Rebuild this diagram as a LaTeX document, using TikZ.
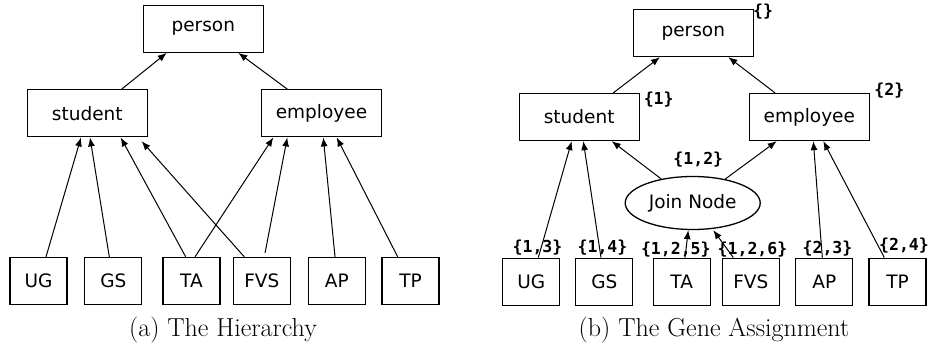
\documentclass[tikz,border=0pt]{standalone}
\usepackage{fontspec}
\setsansfont{DejaVu Sans}
\setmonofont{DejaVu Sans Mono}
\usetikzlibrary{shapes.geometric,arrows.meta}
\tikzset{
  cls/.style={draw, line width=1.3pt, minimum width=120pt, minimum height=47pt, inner sep=0pt,
    font=\sffamily\fontsize{18.5}{21}\selectfont},
  leaf/.style={cls, minimum width=57pt},
  joinnode/.style={draw, ellipse, line width=1.3pt, minimum width=135pt, minimum height=53pt, inner sep=0pt,
    font=\sffamily\fontsize{18.5}{21}\selectfont},
  gene/.style={inner sep=0pt, font=\ttfamily\bfseries\fontsize{16.5}{18}\selectfont},
  capt/.style={inner sep=0pt, font=\fontsize{26}{30}\selectfont},
  isa/.style={->, >={Latex[length=9pt,width=7pt]}, line width=1pt}
}
\begin{document}
\begin{tikzpicture}[x=1pt,y=-1pt]
\useasboundingbox (0,0) rectangle (931,347);
% (a) the hierarchy
\node [cls] (person) at (203.3,28.7) {person};
\node [cls] (student) at (87.3,113.3) {student};
\node [cls] (employee) at (321.5,113.3) {employee};
\node [leaf] (UG) at (38.5,281) {UG};
\node [leaf] (GS) at (113.3,281) {GS};
\node [leaf] (TA) at (191.5,281) {TA};
\node [leaf] (FVS) at (261.8,281) {FVS};
\node [leaf] (AP) at (336.8,281) {AP};
\node [leaf] (TP) at (410.5,281) {TP};
\draw [isa] ([xshift=34.4pt]student.north) -- ([xshift=-36.6pt]person.south);
\draw [isa] ([xshift=-34.2pt]employee.north) -- ([xshift=35pt]person.south);
\draw [isa] ([xshift=7.5pt]UG.north) -- ([xshift=-6.3pt]student.south);
\draw [isa] ([xshift=-4pt]GS.north) -- ([xshift=2.7pt]student.south);
\draw [isa] ([xshift=-5.8pt]TA.north) -- ([xshift=33.4pt]student.south);
\draw [isa, shorten >=5pt] ([xshift=-17.5pt]FVS.north) -- ([xshift=51pt]student.south);
\draw [isa] ([xshift=3.5pt]TA.north) -- ([xshift=-48.2pt]employee.south);
\draw [isa, shorten <=4pt] ([xshift=2.5pt]FVS.north) -- ([xshift=-34.2pt]employee.south);
\draw [isa] ([xshift=-1.8pt]AP.north) -- ([xshift=1.8pt]employee.south);
\draw [isa] ([xshift=-12.8pt]TP.north) -- ([xshift=15.2pt]employee.south);
\node [capt] (capa) at (223,330) {(a) The Hierarchy};
% (b) the gene assignment
\node [cls] (person2) at (693.3,33) {person};
\node [cls] (student2) at (579.2,117) {student};
\node [cls] (employee2) at (809.3,117) {employee};
\node [joinnode] (join) at (692.7,203) {Join Node};
\node [leaf] (UG2) at (531.3,281.7) {UG};
\node [leaf] (GS2) at (604.3,281.7) {GS};
\node [leaf] (TA2) at (681.7,281.7) {TA};
\node [leaf] (FVS2) at (750.8,281.7) {FVS};
\node [leaf] (AP2) at (824.3,281.7) {AP};
\node [leaf] (TP2) at (897.5,281.7) {TP};
\draw [isa] ([xshift=34.1pt]student2.north) -- ([xshift=-33.3pt]person2.south);
\draw [isa] ([xshift=-34.3pt]employee2.north) -- ([xshift=35pt]person2.south);
\draw [isa] (join) -- ([xshift=32.5pt]student2.south);
\draw [isa] (join) -- ([xshift=-32.6pt]employee2.south);
\draw [isa] ([xshift=7pt]UG2.north) -- ([xshift=-7.5pt]student2.south);
\draw [isa] ([xshift=-3.3pt]GS2.north) -- ([xshift=4.1pt]student2.south);
\draw [isa] ([xshift=3.3pt]TA2.north) -- ([xshift=-4.4pt]join.south);
\draw [isa] ([xshift=-17.5pt]FVS2.north) -- ([xshift=20.6pt]join.south);
\draw [isa] ([xshift=-2pt]AP2.north) -- ([xshift=4pt]employee2.south);
\draw [isa] ([xshift=-13.2pt]TP2.north) -- ([xshift=14pt]employee2.south);
\node [gene] (g0) at (763,11.7) {\{\}};
\node [gene] (g1) at (658.7,100) {\{1\}};
\node [gene] (g2) at (889.3,91) {\{2\}};
\node [gene] (g12) at (698.3,159.5) {\{1,2\}};
\node [gene] (g13) at (537.5,247.5) {\{1,3\}};
\node [gene] (g14) at (602.5,247.5) {\{1,4\}};
\node [gene] (g125) at (675.8,250) {\{1,2,5\}};
\node [gene] (g126) at (752.5,250) {\{1,2,6\}};
\node [gene] (g23) at (827.5,249) {\{2,3\}};
\node [gene] (g24) at (904,245.8) {\{2,4\}};
\node [capt] (captb) at (714,330) {(b) The Gene Assignment};
\end{tikzpicture}
\end{document}
